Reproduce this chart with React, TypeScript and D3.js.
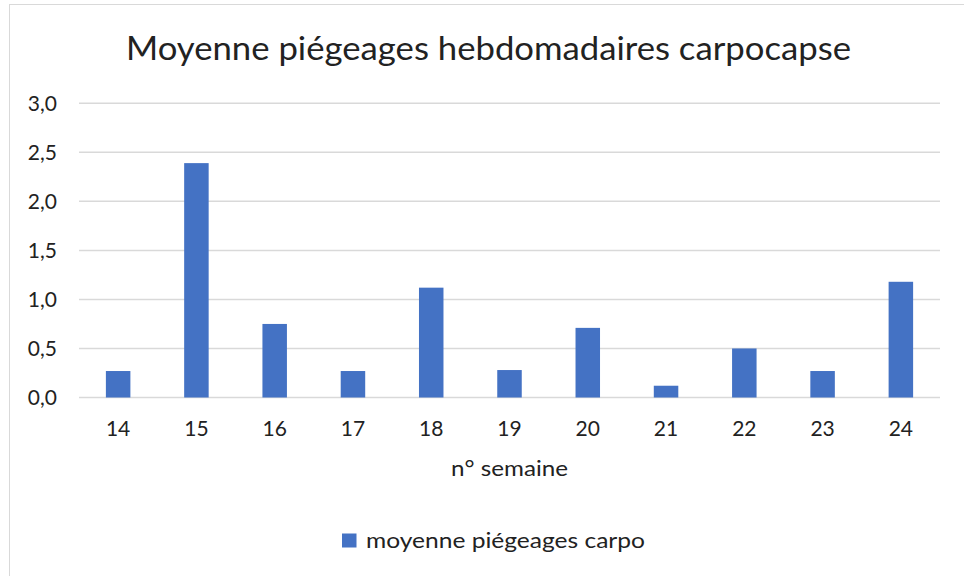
import React from "react";
import * as d3 from "d3";

const weeks: string[] = ["14", "15", "16", "17", "18", "19", "20", "21", "22", "23", "24"];
const values: number[] = [0.27, 2.39, 0.75, 0.27, 1.12, 0.28, 0.71, 0.12, 0.5, 0.27, 1.18];
const yTicks: number[] = [0, 0.5, 1, 1.5, 2, 2.5, 3];
const title = "Moyenne piégeages hebdomadaires carpocapse";
const xTitle = "n° semaine";
const seriesName = "moyenne piégeages carpo";

const W = 964;
const H = 576;
const FONT = "Lato, 'Open Sans', sans-serif";
const BAR = "#4472C4";

export default function App() {
  const left = 79, right = 940, top = 103.3, bottom = 397.5;
  const x = d3.scaleBand<string>().domain(weeks).range([left, right]).paddingInner(0.687).paddingOuter(0.687 / 2);
  const y = d3.scaleLinear().domain([0, 3]).range([bottom, top]);
  const fmt = (v: number) => d3.format(".1f")(v).replace(".", ",");
  return (
    <svg width={W} height={H} style={{ position: "fixed", left: 0, top: 0, background: "#fff" }}>
      <rect x={0} y={0} width={W} height={H} fill="#fff" />
      <rect x={9.5} y={4.5} width={W + 20} height={H + 20} fill="#fff" stroke="#d9d9d9" strokeWidth={1} />
      <text x={126} y={60} fontFamily={FONT} fontSize={32} fill="#222" textLength={725} lengthAdjust="spacingAndGlyphs">{title}</text>
      {yTicks.map((t) => (
        <g key={t}>
          <line x1={left} x2={right} y1={y(t)} y2={y(t)} stroke="#d9d9d9" strokeWidth={1.5} />
          <text x={57} y={y(t)} dy="0.36em" textAnchor="end" fontFamily={FONT} fontSize={21} fill="#222">{fmt(t)}</text>
        </g>
      ))}
      {weeks.map((w, i) => (
        <rect key={w} x={x(w)} y={y(values[i])} width={x.bandwidth()} height={bottom - y(values[i])} fill={BAR} />
      ))}
      {weeks.map((w) => (
        <text key={w} x={(x(w) as number) + x.bandwidth() / 2} y={436} textAnchor="middle" fontFamily={FONT} fontSize={21} fill="#222">{w}</text>
      ))}
      <text x={451} y={476} fontFamily={FONT} fontSize={21} fill="#222" textLength={117} lengthAdjust="spacingAndGlyphs">{xTitle}</text>
      <rect x={342} y={533.5} width={14.5} height={14} fill={BAR} />
      <text x={366} y={548} fontFamily={FONT} fontSize={21} fill="#222" textLength={279} lengthAdjust="spacingAndGlyphs">{seriesName}</text>
    </svg>
  );
}
